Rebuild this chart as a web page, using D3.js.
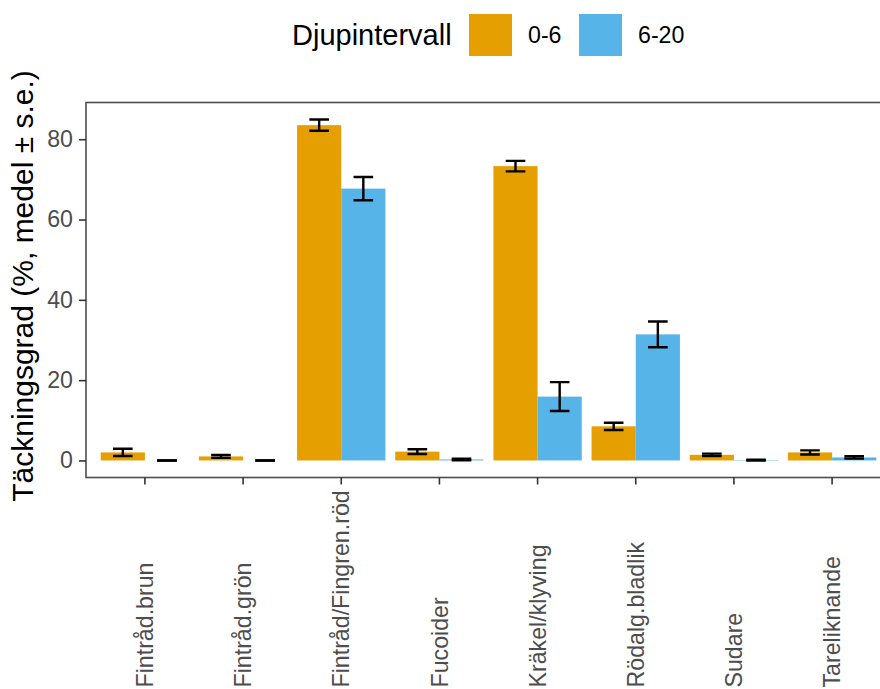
<!DOCTYPE html>
<html>
<head>
<meta charset="utf-8">
<script src="https://cdn.jsdelivr.net/npm/d3@7"></script>
<style>
  html, body { margin: 0; padding: 0; background: #fff; }
  svg { display: block; font-family: "Liberation Sans", Arial, Helvetica, sans-serif; }
</style>
</head>
<body>
<svg id="chart" width="880" height="689"></svg>
<script>
// Vegetation groups and depth intervals
const categories = ["Fintråd.brun", "Fintråd.grön", "Fintråd/Fingren.röd", "Fucoider",
                    "Kräkel/klyving", "Rödalg.bladlik", "Sudare", "Tareliknande"];
const depths = ["0-6", "6-20"];

// Mean cover (%) and standard error per depth interval
const mean0_6  = [2.0, 1.0, 83.5, 2.2, 73.3, 8.5, 1.4, 2.0];
const se0_6    = [0.9, 0.35, 1.4, 0.6, 1.3, 0.9, 0.3, 0.5];
const mean6_20 = [0.0, 0.0, 67.7, 0.25, 15.9, 31.4, 0.1, 0.75];
const se6_20   = [0.0, 0.0, 2.9, 0.2, 3.6, 3.2, 0.1, 0.3];

const yTicks = [0, 20, 40, 60, 80];
const colors = ["#E69F00", "#56B4E9"];

const rows = [];
categories.forEach((c, i) => {
  rows.push({cat: c, depth: depths[0], mean: mean0_6[i], se: se0_6[i]});
  rows.push({cat: c, depth: depths[1], mean: mean6_20[i], se: se6_20[i]});
});

const svg = d3.select("#chart");
const panel = {left: 86, right: 891, top: 102.5, bottom: 477.5};

const x = d3.scaleBand()
  .domain(categories)
  .range([panel.left, panel.right])
  .paddingInner(0.1)
  .paddingOuter(0.15);

const xInner = d3.scaleBand()
  .domain(depths)
  .range([0, x.bandwidth()]);

const color = d3.scaleOrdinal().domain(depths).range(colors);

// y range including error bars, expanded 5% each way
const yMax = d3.max(rows, d => d.mean + d.se);
const yMin = 0;
const pad = (yMax - yMin) * 0.05;
const y = d3.scaleLinear()
  .domain([yMin - pad, yMax + pad])
  .range([panel.bottom, panel.top]);

const plot = svg.append("g");
svg.append("clipPath").attr("id", "panelClip")
  .append("rect")
  .attr("x", panel.left).attr("y", panel.top)
  .attr("width", panel.right - panel.left).attr("height", panel.bottom - panel.top);

const marks = plot.append("g").attr("clip-path", "url(#panelClip)");

// bars
marks.selectAll("rect.bar")
  .data(rows)
  .join("rect")
  .attr("class", "bar")
  .attr("x", d => x(d.cat) + xInner(d.depth))
  .attr("width", xInner.bandwidth())
  .attr("y", d => y(Math.max(0, d.mean)))
  .attr("height", d => Math.abs(y(0) - y(d.mean)))
  .attr("fill", d => color(d.depth));

// error bars
const capW = x.step() * 0.2;
const cx = d => x(d.cat) + xInner(d.depth) + xInner.bandwidth() / 2;
const eb = marks.selectAll("g.err")
  .data(rows)
  .join("g")
  .attr("class", "err")
  .attr("stroke", "#000")
  .attr("stroke-width", 2.4)
  .attr("fill", "none");

eb.append("line")
  .attr("x1", cx).attr("x2", cx)
  .attr("y1", d => y(d.mean - d.se))
  .attr("y2", d => y(d.mean + d.se));
eb.append("line")
  .attr("x1", d => cx(d) - capW / 2)
  .attr("x2", d => cx(d) + capW / 2)
  .attr("y1", d => y(d.mean + d.se))
  .attr("y2", d => y(d.mean + d.se));
eb.append("line")
  .attr("x1", d => cx(d) - capW / 2)
  .attr("x2", d => cx(d) + capW / 2)
  .attr("y1", d => y(d.mean - d.se))
  .attr("y2", d => y(d.mean - d.se));

// panel border
plot.append("rect")
  .attr("x", panel.left).attr("y", panel.top)
  .attr("width", panel.right - panel.left).attr("height", panel.bottom - panel.top)
  .attr("fill", "none")
  .attr("stroke", "#4d4d4d")
  .attr("stroke-width", 1.6);

// y axis
const yAxis = svg.append("g")
  .attr("transform", `translate(${panel.left},0)`)
  .call(d3.axisLeft(y).tickValues(yTicks).tickSize(7).tickPadding(6).tickFormat(d3.format("d")));
yAxis.select(".domain").remove();
yAxis.selectAll(".tick line").attr("stroke", "#333").attr("stroke-width", 1.6);
yAxis.selectAll(".tick text")
  .attr("fill", "#4d4d4d")
  .style("font-size", "23.2px")
  .style("font-family", "'Liberation Sans', Arial, sans-serif");

// x axis, labels reading upward from the bottom edge
const xAxis = svg.append("g")
  .attr("transform", `translate(0,${panel.bottom})`)
  .call(d3.axisBottom(x).tickSize(7).tickPadding(0));
xAxis.select(".domain").remove();
xAxis.selectAll(".tick line").attr("stroke", "#333").attr("stroke-width", 1.6);
xAxis.selectAll(".tick text")
  .attr("fill", "#4d4d4d")
  .attr("text-anchor", "start")
  .attr("transform", `translate(0,${687.5 - panel.bottom}) rotate(-90)`)
  .attr("x", 0)
  .attr("y", 0)
  .attr("dy", "0.35em")
  .style("font-size", "23.2px")
  .style("font-family", "'Liberation Sans', Arial, sans-serif");

// y axis title
svg.append("text")
  .attr("transform", `translate(33,${(panel.top + panel.bottom) / 2 - 4}) rotate(-90)`)
  .attr("text-anchor", "middle")
  .attr("fill", "#000")
  .style("font-size", "30px")
  .text("Täckningsgrad (%, medel ± s.e.)");

// legend
const legend = svg.append("g");
legend.append("text")
  .attr("x", 292).attr("y", 35).attr("dy", "0.35em")
  .style("font-size", "29px")
  .attr("fill", "#000")
  .text("Djupintervall");
const keyX = [469, 579];
depths.forEach((dp, i) => {
  legend.append("rect")
    .attr("x", keyX[i]).attr("y", 14)
    .attr("width", 43).attr("height", 42)
    .attr("fill", color(dp));
  legend.append("text")
    .attr("x", keyX[i] + 59).attr("y", 35).attr("dy", "0.35em")
    .style("font-size", "23.2px")
    .attr("fill", "#000")
    .text(dp);
});
</script>
</body>
</html>
